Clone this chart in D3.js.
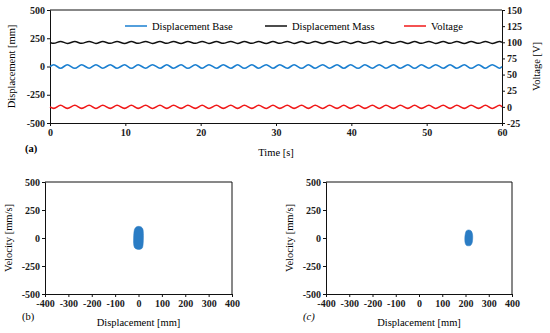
<!DOCTYPE html>
<html>
<head>
<meta charset="utf-8">
<script src="https://cdn.jsdelivr.net/npm/d3@7"></script>
<style>
  body { margin: 0; background: #fff; }
  svg { display: block; font-family: 'Liberation Serif', 'Times New Roman', serif; }
  .tick text { fill: #1a1a1a; }
  .domain, .tick line { stroke: #111; }
</style>
</head>
<body>
<svg id="chart" width="550" height="333"></svg>
<script>
// time of each turning point of the waves [s]
const timeS = [0, 0.5, 1.4, 2.3, 3.3, 4.2, 5.2, 6.1, 7.0, 8.0, 8.9, 9.9, 10.8, 11.7, 12.7, 13.6, 14.6, 15.5, 16.4, 17.4, 18.3, 19.3,
  20.2, 21.1, 22.1, 23.0, 24.0, 24.9, 25.8, 26.8, 27.7, 28.7, 29.6, 30.5, 31.5, 32.4, 33.4, 34.3, 35.2, 36.2, 37.1, 38.1,
  39.0, 39.9, 40.9, 41.8, 42.8, 43.7, 44.6, 45.6, 46.5, 47.5, 48.4, 49.3, 50.3, 51.2, 52.2, 53.1, 54.0, 55.0, 55.9, 56.9,
  57.8, 58.7, 59.7, 60]
// displacement base [mm]
const dispBase = [0, 15, -15, 15, -16, 15, -15, 16, -15, 15, -15, 15, -16, 15, -15, 16, -15, 15, -15, 15, -16, 15,
  -15, 16, -15, 15, -15, 15, -16, 15, -15, 16, -15, 15, -15, 15, -16, 15, -15, 16, -15, 15,
  -15, 15, -16, 15, -15, 16, -15, 15, -15, 15, -16, 15, -15, 16, -15, 15, -15, 15, -16, 15,
  -15, 16, -15, 0]
// displacement mass [mm]
const dispMass = [213, 205, 222, 204, 221, 205, 222, 204, 221, 205, 222, 204, 221, 205, 222, 204, 221, 205, 222, 204, 221, 205,
  222, 204, 221, 205, 222, 204, 221, 205, 222, 204, 221, 205, 222, 204, 221, 205, 222, 204, 221, 205,
  222, 204, 221, 205, 222, 204, 221, 205, 222, 204, 221, 205, 222, 204, 221, 205, 222, 204, 221, 205,
  222, 204, 221, 213]
// voltage [V]
const voltage = [0, -2.4, 2.4, -2.4, 2.5, -2.4, 2.4, -2.5, 2.4, -2.4, 2.4, -2.4, 2.5, -2.4, 2.4, -2.5, 2.4, -2.4, 2.4, -2.4, 2.5, -2.4,
  2.4, -2.5, 2.4, -2.4, 2.4, -2.4, 2.5, -2.4, 2.4, -2.5, 2.4, -2.4, 2.4, -2.4, 2.5, -2.4, 2.4, -2.5, 2.4, -2.4,
  2.4, -2.4, 2.5, -2.4, 2.4, -2.5, 2.4, -2.4, 2.4, -2.4, 2.5, -2.4, 2.4, -2.5, 2.4, -2.4, 2.4, -2.4, 2.5, -2.4,
  2.4, -2.5, 2.4, 0]

// phase portrait outlines [displacement mm, velocity mm/s]
const phaseBase = [[0, 104], [12, 98], [19, 78], [21, 40], [21, 0], [20, -50], [17, -86], [8, -100], [-6, -100],
  [-17, -86], [-21, -50], [-21, 0], [-20, 40], [-17, 78], [-10, 98]]
const phaseMass = [[214, 72], [224, 64], [230, 36], [231, 0], [229, -40], [223, -64], [213, -70], [203, -64],
  [198, -40], [197, 0], [199, 36], [204, 64]]

const timeTicks = [0, 10, 20, 30, 40, 50, 60]
const dispTicks = [-500, -250, 0, 250, 500]
const voltTicks = [-25, 0, 25, 50, 75, 100, 125, 150]
const phaseXTicks = [-400, -300, -200, -100, 0, 100, 200, 300, 400]
const legendNames = ['Displacement Base', 'Displacement Mass', 'Voltage']

const colorBase = '#1a7fd0'
const colorMass = '#111111'
const colorVolt = '#f01818'
const colorPhase = '#2a7cc4'
const serif = "'Liberation Serif', 'Times New Roman', serif"

const svg = d3.select('#chart')

// d3 axes put their own sans-serif font on the group, put the serif back
function styleAxis(g) {
    g.attr('font-family', serif).attr('font-size', 10).attr('font-weight', 'bold')
}
const plain = d => String(d) // keep the ascii hyphen as minus sign

// ---------- panel (a) ----------
const xTime = d3.scaleLinear().domain([0, 60]).range([50, 502])
const yDisp = d3.scaleLinear().domain([-500, 500]).range([123, 10])
const yVolt = d3.scaleLinear().domain([-25, 150]).range([123, 10])

svg.append('g').attr('transform', 'translate(0,123)')
    .call(d3.axisBottom(xTime).tickValues(timeTicks).tickFormat(plain).tickSize(3).tickPadding(3)).call(styleAxis)
svg.append('g').attr('transform', 'translate(50,0)')
    .call(d3.axisLeft(yDisp).tickValues(dispTicks).tickFormat(plain).tickSize(3).tickPadding(2)).call(styleAxis)
svg.append('g').attr('transform', 'translate(502,0)')
    .call(d3.axisRight(yVolt).tickValues(voltTicks).tickFormat(plain).tickSize(3).tickPadding(2)).call(styleAxis)
svg.append('line').attr('x1', 50).attr('x2', 502).attr('y1', 10).attr('y2', 10).attr('stroke', '#111')

const waveDisp = d3.line().x((d, i) => xTime(timeS[i])).y(d => yDisp(d)).curve(d3.curveMonotoneX)
const waveVolt = d3.line().x((d, i) => xTime(timeS[i])).y(d => yVolt(d)).curve(d3.curveMonotoneX)

svg.append('path').attr('d', waveDisp(dispMass)).attr('fill', 'none').attr('stroke', colorMass).attr('stroke-width', 1.5)
svg.append('path').attr('d', waveDisp(dispBase)).attr('fill', 'none').attr('stroke', colorBase).attr('stroke-width', 1.6)
svg.append('path').attr('d', waveVolt(voltage)).attr('fill', 'none').attr('stroke', colorVolt).attr('stroke-width', 1.6)

// legend
const legendX = [125, 265, 404]
const legendColors = [colorBase, colorMass, colorVolt]
legendNames.forEach((name, i) => {
    svg.append('line').attr('x1', legendX[i]).attr('x2', legendX[i] + 22).attr('y1', 26).attr('y2', 26)
        .attr('stroke', legendColors[i]).attr('stroke-width', 1.5)
    svg.append('text').attr('x', legendX[i] + 27).attr('y', 29.5).attr('font-size', 10.5).text(name)
})

svg.append('text').attr('transform', 'translate(15,66.5) rotate(-90)').attr('text-anchor', 'middle')
    .attr('font-size', 10.5).text('Displacement [mm]')
svg.append('text').attr('transform', 'translate(540,66.5) rotate(-90)').attr('text-anchor', 'middle')
    .attr('font-size', 10.5).text('Voltage [V]')
svg.append('text').attr('x', 276).attr('y', 156).attr('text-anchor', 'middle').attr('font-size', 10.5).text('Time [s]')
svg.append('text').attr('x', 25).attr('y', 152).attr('font-size', 10.5).attr('font-weight', 'bold').text('(a)')

// ---------- panels (b) and (c) ----------
function phasePanel(left, right, outline, label, italic) {
    const x = d3.scaleLinear().domain([-400, 400]).range([left, right])
    const y = d3.scaleLinear().domain([-500, 500]).range([294, 182])

    svg.append('g').attr('transform', 'translate(0,294)')
        .call(d3.axisBottom(x).tickValues(phaseXTicks).tickFormat(plain).tickSize(3).tickPadding(3)).call(styleAxis)
    svg.append('g').attr('transform', `translate(${left},0)`)
        .call(d3.axisLeft(y).tickValues(dispTicks).tickFormat(plain).tickSize(3).tickPadding(2)).call(styleAxis)
    svg.append('line').attr('x1', left).attr('x2', right).attr('y1', 182).attr('y2', 182).attr('stroke', '#111')
    svg.append('line').attr('x1', right).attr('x2', right).attr('y1', 182).attr('y2', 294).attr('stroke', '#111')

    const blob = d3.line().x(d => x(d[0])).y(d => y(d[1])).curve(d3.curveCardinalClosed)
    svg.append('path').attr('d', blob(outline)).attr('fill', colorPhase).attr('stroke', colorPhase).attr('stroke-width', 0.5)

    svg.append('text').attr('transform', `translate(${left - 33},238) rotate(-90)`).attr('text-anchor', 'middle')
        .attr('font-size', 10.5).text('Velocity [mm/s]')
    svg.append('text').attr('x', (left + right) / 2).attr('y', 326).attr('text-anchor', 'middle')
        .attr('font-size', 10.5).text('Displacement [mm]')
    svg.append('text').attr('x', left - 23).attr('y', 320).attr('font-size', 10.5)
        .attr('font-style', italic ? 'italic' : 'normal').text(label)
}

phasePanel(45, 232, phaseBase, '(b)', false)
phasePanel(326, 512, phaseMass, '(c)', true)
</script>
</body>
</html>
